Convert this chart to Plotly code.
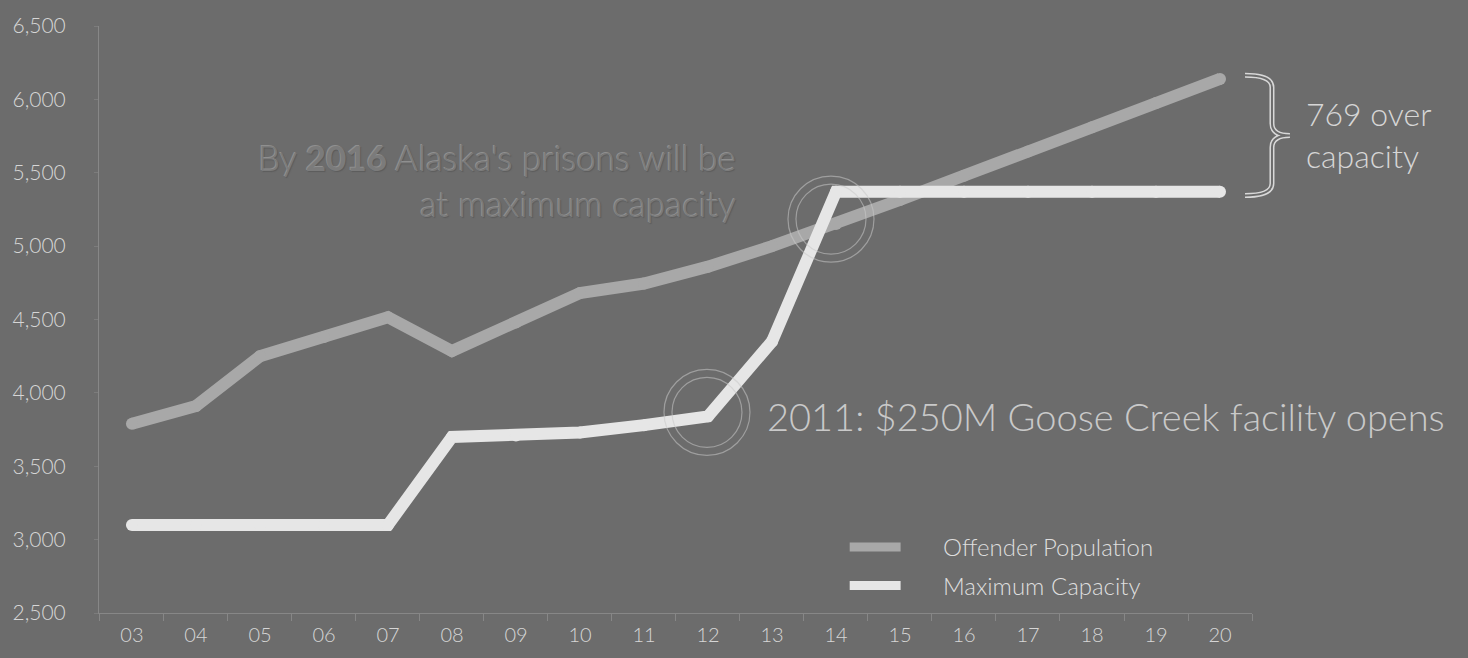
import plotly.graph_objects as go

# Alaska offender population vs. maximum prison capacity, 2003-2020
years = list(range(2003, 2021))
year_labels = ["03", "04", "05", "06", "07", "08", "09", "10", "11",
               "12", "13", "14", "15", "16", "17", "18", "19", "20"]
offender_population = [3790, 3910, 4250, 4380, 4515, 4285, 4480, 4680, 4745,
                       4860, 5000, 5150, 5315, 5480, 5645, 5810, 5975, 6139]
maximum_capacity = [3100, 3100, 3100, 3100, 3100, 3700, 3710, 3730, 3780,
                    3840, 4350, 5370, 5370, 5370, 5370, 5370, 5370, 5370]
y_ticks = [2500, 3000, 3500, 4000, 4500, 5000, 5500, 6000, 6500]
series_names = ["Offender Population", "Maximum Capacity"]

BG = "#6c6c6c"
POP_COLOR = "#a8a8a8"
CAP_COLOR = "#e6e6e6"
TEXT_COLOR = "#d6d6d6"
FONT = "Lato, 'Open Sans', sans-serif"

W, H = 1468, 658
PL, PR, PT, PB = 97, 1252, 22, 617  # plot area edges in pixels


def paper_x(px):
    return (px - PL) / (PR - PL)


def paper_y(py):
    return (PB - py) / (PB - PT)


def font(size, color=TEXT_COLOR, **kw):
    return dict(family=FONT, size=size, color=color, weight=300, **kw)


fig = go.Figure()

for name, values, color in [(series_names[0], offender_population, POP_COLOR),
                            (series_names[1], maximum_capacity, CAP_COLOR)]:
    fig.add_trace(go.Scatter(
        x=years, y=values, name=name, mode="lines+markers",
        line=dict(color=color, width=12),
        marker=dict(color=color, size=12),
        showlegend=False,
        hovertemplate="%{x}: %{y:,}<extra>" + name + "</extra>",
    ))

shapes = []

# highlight rings
ring_color = "rgba(200,200,200,0.55)"
for xa, ya, dx, dy in [(2012, maximum_capacity[9], -1, 4),
                       (2014, offender_population[11], -5, 5)]:
    for r in (43, 35):
        shapes.append(dict(
            type="circle", xref="x", yref="y", xsizemode="pixel", ysizemode="pixel",
            xanchor=xa, yanchor=ya,
            x0=dx - r, x1=dx + r, y0=dy - r, y1=dy + r,
            line=dict(color=ring_color, width=1.2), layer="above",
        ))

# curly brace spanning the 2020 gap
top = offender_population[-1] + 25
bot = maximum_capacity[-1] - 25
mid = (top + bot) / 2
u = (top - bot) / 120.0  # data units per pixel along the brace
xl, xm, xt = paper_x(1245), paper_x(1272), paper_x(1290)
brace = (f"M{xl},{top} Q{xm},{top} {xm},{top - 12 * u} "
         f"L{xm},{mid + 12 * u} Q{xm},{mid} {xt},{mid} "
         f"Q{xm},{mid} {xm},{mid - 12 * u} "
         f"L{xm},{bot + 12 * u} Q{xm},{bot} {xl},{bot}")
shapes.append(dict(type="path", xref="paper", yref="y", path=brace,
                   line=dict(color="#d8d8d8", width=5), layer="above"))
shapes.append(dict(type="path", xref="paper", yref="y", path=brace,
                   line=dict(color=BG, width=2), layer="above"))

# legend swatches
for py, color in [(550, POP_COLOR), (589, CAP_COLOR)]:
    shapes.append(dict(type="line", xref="paper", yref="paper",
                       x0=paper_x(849), x1=paper_x(900), y0=paper_y(py), y1=paper_y(py),
                       line=dict(color=color, width=9), layer="above"))

annotations = []
for py, name in [(550, series_names[0]), (589, series_names[1])]:
    annotations.append(dict(
        x=paper_x(940), y=paper_y(py), xref="paper", yref="paper",
        xanchor="left", yanchor="middle", showarrow=False, text=name,
        font=font(24, "#dedede"),
    ))

annotations.append(dict(
    x=paper_x(737), y=paper_y(178), xref="paper", yref="paper",
    xanchor="right", yanchor="middle", align="right", showarrow=False,
    text="By <b>2016</b> Alaska's prisons will be<br>at maximum capacity",
    font=font(35, "#7b7b7b",
              shadow="-1px -1px 0px #8f8f8f, 1px 1px 1px #5c5c5c"),
))
annotations.append(dict(
    x=paper_x(764), y=paper_y(417), xref="paper", yref="paper",
    xanchor="left", yanchor="middle", showarrow=False,
    text="2011: $250M Goose Creek facility opens",
    font=font(38, "#c9c9c9"),
))
annotations.append(dict(
    x=paper_x(1304), y=paper_y(132), xref="paper", yref="paper",
    xanchor="left", yanchor="middle", align="left", showarrow=False,
    text="769 over<br>capacity", font=font(32),
))

fig.update_layout(
    width=W, height=H,
    margin=dict(l=PL, r=W - PR, t=PT, b=H - PB),
    paper_bgcolor=BG, plot_bgcolor=BG,
    font=dict(family=FONT, color=TEXT_COLOR),
    showlegend=False,
    shapes=shapes, annotations=annotations,
    xaxis=dict(
        range=[2002.485, 2020.5],
        tickmode="array", tickvals=years, ticktext=year_labels,
        ticks="", showgrid=False, zeroline=False,
        showline=True, linecolor="#878787", linewidth=1,
        tickfont=font(20),
        ticklabelstandoff=4,
        minor=dict(tick0=2002.5, dtick=1, ticks="outside", ticklen=7,
                   tickcolor="#878787", tickwidth=1, showgrid=False),
    ),
    yaxis=dict(
        range=[2500, 6500],
        tickmode="array", tickvals=y_ticks, tickformat=",",
        ticks="outside", ticklen=4, tickcolor="#7c7c7c",
        showgrid=False, zeroline=False,
        showline=True, linecolor="#878787", linewidth=1,
        tickfont=font(21),
        ticklabelstandoff=24,
    ),
)

fig.write_html("out.html")
